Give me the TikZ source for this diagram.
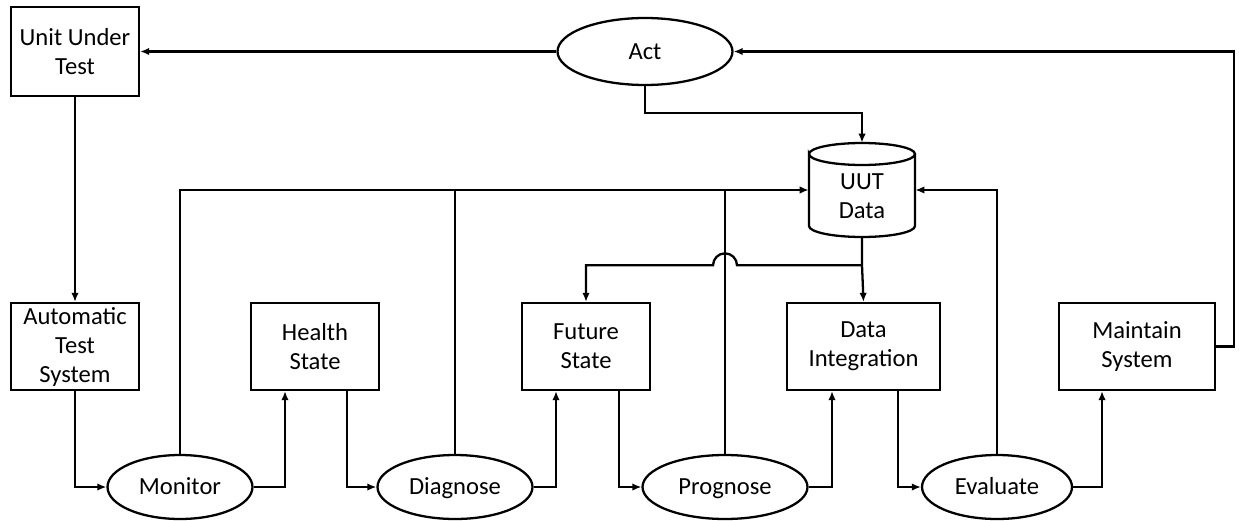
\documentclass[tikz,border=0pt]{standalone}
\usepackage{fontspec}
\setmainfont{Carlito}
\usetikzlibrary{shapes.geometric,arrows.meta,calc}
\begin{document}
\begin{tikzpicture}[x=0.02cm,y=-0.02cm,
  every node/.style={font=\fontsize{14}{16.5}\selectfont},
  line/.style={line width=1.3pt},
  arr/.style={line width=1.3pt, -{Latex[length=1.8mm,width=1.5mm]}},
  box/.style={draw, line width=1.3pt, inner sep=0pt, align=center, minimum height=1.74cm},
  oval/.style={draw, ellipse, line width=1.3pt, inner sep=0pt, text height=9pt, text depth=0pt, minimum height=1.28cm}]
\useasboundingbox (0,0) rectangle (1239,520);

% process boxes
\node[box, minimum width=2.56cm, minimum height=1.78cm] (uut) at (75,51.5) {Unit Under\\Test};
\node[box, minimum width=2.56cm] (ats) at (75,346.5) {Automatic\\Test\\System};
\node[box, minimum width=2.56cm] (health) at (315,346.5) {Health\\State};
\node[box, minimum width=2.56cm] (future) at (586,346.5) {Future\\State};
\node[box, minimum width=3.06cm] (di) at (863.5,346.5) {Data\\Integration};
\node[box, minimum width=3.12cm] (maintain) at (1137,346.5) {Maintain\\System};

% activities
\node[oval, minimum width=3.5cm, minimum height=1.34cm] (act) at (645,51.5) {Act};
\node[oval, minimum width=2.9cm] (monitor) at (180,487) {Monitor};
\node[oval, minimum width=3.1cm] (diagnose) at (455,487) {Diagnose};
\node[oval, minimum width=3.3cm] (prognose) at (725,487) {Prognose};
\node[oval, minimum width=3.0cm] (evaluate) at (997,487) {Evaluate};

% data store drawn as a cylinder
\node[minimum width=2.12cm, minimum height=1.88cm, inner sep=0pt] (data) at (862,190) {};
\draw[line] (809,154) arc[start angle=180, end angle=-180, x radius=1.06cm, y radius=0.22cm]
  -- (809,226) arc[start angle=180, end angle=360, x radius=1.06cm, y radius=0.22cm] -- (915,154);
\node[align=center, inner sep=0pt] (datalabel) at (862,196) {UUT\\Data};

% connectors
\draw[arr] (act.west) -- (uut.east);
\draw[arr] (uut.south) -- (ats.north);
\draw[arr] (act.south) -- ++(0,27) -| (data.north);
\draw[arr] (maintain.east) -- ++(18,0) |- (act.east);

\draw[arr] (ats.south) |- (monitor.west);
\draw[arr] (monitor.east) -| ($(health.south)+(-30,0)$);
\draw[arr] ($(health.south)+(32,0)$) |- (diagnose.west);
\draw[arr] (diagnose.east) -| ($(future.south)+(-30,0)$);
\draw[arr] ($(future.south)+(33,0)$) |- (prognose.west);
\draw[arr] (prognose.east) -| ($(di.south)+(-31.5,0)$);
\draw[arr] ($(di.south)+(34.5,0)$) |- (evaluate.west);
\draw[arr] (evaluate.east) -| ($(maintain.south)+(-35,0)$);

\draw[arr] (monitor.north) |- (data.west);
\draw[line] (diagnose.north) -- (diagnose.north |- data.west);
\draw[line] (prognose.north) -- (prognose.north |- data.west);
\draw[arr] (evaluate.north) |- (data.east);

\draw[arr] (data.south) -- ++(0,28) coordinate (split) -- (di.north);
\draw[arr] (split) -- ($(split -| prognose.north)+(12,0)$)
  arc[start angle=0, end angle=180, radius=0.24cm]
  -- (split -| future.north) -- (future.north);
\end{tikzpicture}
\end{document}
